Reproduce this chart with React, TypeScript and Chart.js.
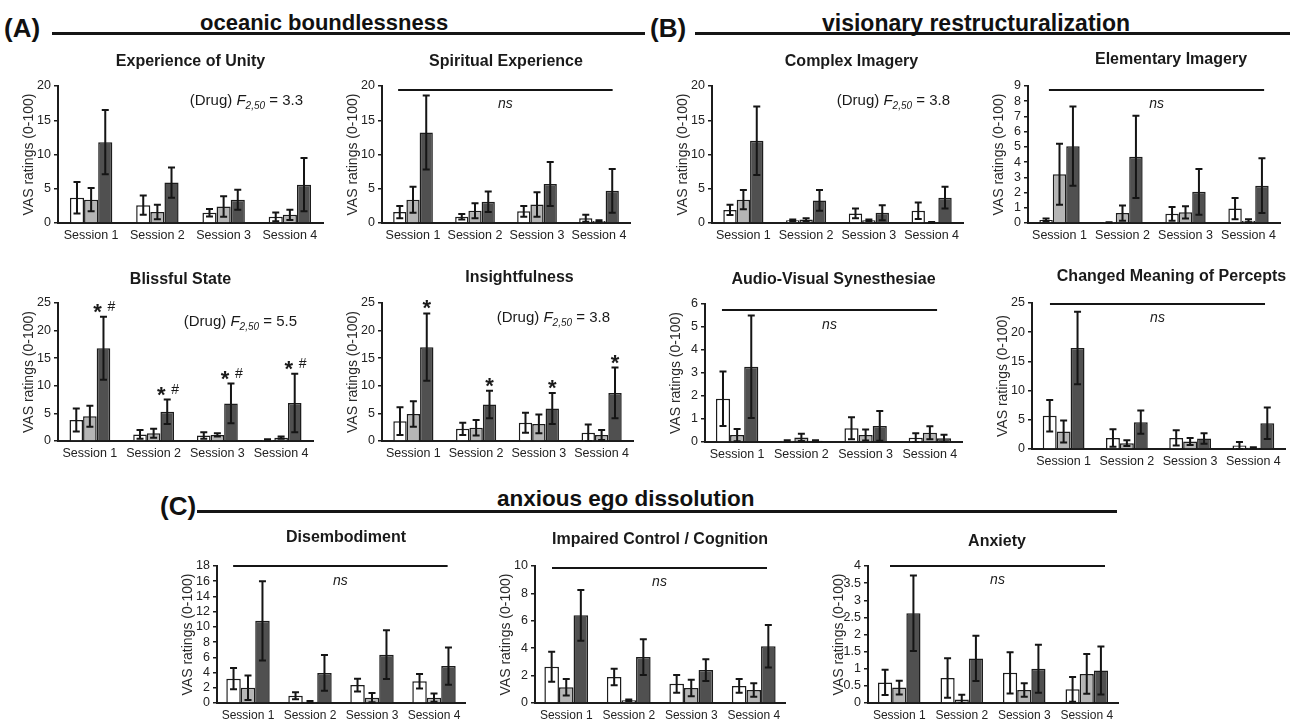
import React, { useEffect, useRef } from "react";
import { Chart, registerables } from "chart.js";

Chart.register(...registerables);

const FONT = "'Liberation Sans', Arial, Helvetica, sans-serif";

// ---------- data ----------
const sessions = ["Session 1", "Session 2", "Session 3", "Session 4"];
const groupColors = ["#ffffff", "#b5b5b5", "#505050"];

// rows: white, gray, dark ; columns: sessions 1-4
const unityMeans = [[3.7, 2.6, 1.5, 0.9], [3.4, 1.6, 2.4, 1.2], [11.8, 5.9, 3.4, 5.6]];
const unityErrors = [[2.3, 1.4, 0.55, 0.65], [1.7, 1.05, 1.5, 0.75], [4.7, 2.2, 1.45, 3.9]];
const unityTicks = [0, 5, 10, 15, 20];
const unityStat = "3.3";

const spiritMeans = [[1.6, 0.9, 1.7, 0.7], [3.4, 1.8, 2.7, 0.3], [13.2, 3.1, 5.7, 4.7]];
const spiritErrors = [[0.9, 0.4, 0.8, 0.5], [1.9, 1.1, 1.8, 0.1], [5.4, 1.5, 3.2, 3.2]];
const spiritTicks = [0, 5, 10, 15, 20];

const blissMeans = [[3.8, 1.2, 1.0, 0.2], [4.5, 1.4, 1.1, 0.6], [16.8, 5.3, 6.8, 6.9]];
const blissErrors = [[2.1, 0.8, 0.6, 0.1], [1.9, 0.8, 0.3, 0.2], [5.7, 2.2, 3.6, 5.3]];
const blissTicks = [0, 5, 10, 15, 20, 25];
const blissStat = "5.5";
const blissMarks = ["*#", "*#", "*#", "*#"];

const insightMeans = [[3.6, 2.2, 3.3, 1.5], [4.9, 2.4, 3.1, 1.1], [17.0, 6.6, 5.9, 8.7]];
const insightErrors = [[2.5, 1.1, 1.8, 1.5], [2.3, 1.4, 1.7, 0.9], [6.1, 2.5, 2.8, 4.6]];
const insightTicks = [0, 5, 10, 15, 20, 25];
const insightStat = "3.8";
const insightMarks = ["*", "*", "*", "*"];

const complexMeans = [[1.9, 0.4, 1.4, 1.8], [3.4, 0.5, 0.4, 0.1], [12.0, 3.3, 1.5, 3.7]];
const complexErrors = [[0.75, 0.1, 0.7, 1.2], [1.4, 0.2, 0.1, 0.05], [5.0, 1.5, 1.1, 1.6]];
const complexTicks = [0, 5, 10, 15, 20];
const complexStat = "3.8";

const elemMeans = [[0.2, 0.03, 0.6, 0.95], [3.2, 0.65, 0.7, 0.15], [5.05, 4.35, 2.05, 2.45]];
const elemErrors = [[0.1, 0.02, 0.45, 0.7], [2.0, 0.5, 0.4, 0.1], [2.6, 2.7, 1.5, 1.8]];
const elemTicks = [0, 1, 2, 3, 4, 5, 6, 7, 8, 9];

const avMeans = [[1.88, 0.05, 0.6, 0.18], [0.3, 0.2, 0.3, 0.4], [3.27, 0.05, 0.7, 0.16]];
const avErrors = [[1.18, 0.03, 0.48, 0.2], [0.27, 0.16, 0.24, 0.28], [2.23, 0.03, 0.65, 0.16]];
const avTicks = [0, 1, 2, 3, 4, 5, 6];

const meaningMeans = [[5.7, 1.9, 1.9, 0.6], [3.0, 1.0, 1.3, 0.2], [17.3, 4.6, 1.8, 4.4]];
const meaningErrors = [[2.7, 1.5, 1.3, 0.6], [1.9, 0.5, 0.6, 0.1], [6.2, 2.0, 0.9, 2.7]];
const meaningTicks = [0, 5, 10, 15, 20, 25];

const disembMeans = [[3.2, 0.95, 2.35, 2.85], [2.0, 0.15, 0.7, 0.7], [10.8, 3.95, 6.35, 4.85]];
const disembErrors = [[1.4, 0.45, 0.85, 0.95], [1.6, 0.1, 0.6, 0.55], [5.2, 2.35, 3.2, 2.45]];
const disembTicks = [0, 2, 4, 6, 8, 10, 12, 14, 16, 18];

const impairedMeans = [[2.65, 1.9, 1.4, 1.25], [1.15, 0.2, 1.1, 0.95], [6.4, 3.35, 2.4, 4.15]];
const impairedErrors = [[1.1, 0.6, 0.65, 0.5], [0.6, 0.05, 0.6, 0.5], [1.85, 1.3, 0.8, 1.55]];
const impairedTicks = [0, 2, 4, 6, 8, 10];

const anxietyMeans = [[0.6, 0.73, 0.88, 0.4], [0.45, 0.1, 0.38, 0.85], [2.62, 1.3, 1.0, 0.95]];
const anxietyErrors = [[0.37, 0.58, 0.6, 0.36], [0.2, 0.14, 0.2, 0.58], [1.1, 0.66, 0.7, 0.7]];
const anxietyTicks = [0, 0.5, 1, 1.5, 2, 2.5, 3, 3.5, 4];

const yAxisTitle = "VAS ratings (0-100)";

// ---------- layout ----------
type Panel = {
  key: string;
  title: string;
  means: number[][];
  errors: number[][];
  ticks: number[];
  L: number; T: number; R: number; B: number;
  titleDx: number; titleDy: number;
  stat?: string; statRight?: number; statDy?: number;
  ns?: number[]; // [x1 frac, x2 frac, line dy, text dy]
  marks?: string[];
  catPct: number;
  labelSize: number;
};

const panels: Panel[] = [
  { key: "unity", title: "Experience of Unity", means: unityMeans, errors: unityErrors, ticks: unityTicks,
    L: 58, T: 86, R: 323, B: 223, titleDx: 0, titleDy: 24, stat: unityStat, statRight: 20, statDy: 14, catPct: 0.64, labelSize: 12.5 },
  { key: "spirit", title: "Spiritual Experience", means: spiritMeans, errors: spiritErrors, ticks: spiritTicks,
    L: 382, T: 86, R: 630, B: 223, titleDx: 0, titleDy: 24, ns: [0.065, 0.93, 4, 18], catPct: 0.64, labelSize: 12.5 },
  { key: "bliss", title: "Blissful State", means: blissMeans, errors: blissErrors, ticks: blissTicks,
    L: 58, T: 303, R: 313, B: 441, titleDx: -5, titleDy: 23, stat: blissStat, statRight: 16, statDy: 18, marks: blissMarks, catPct: 0.64, labelSize: 12.5 },
  { key: "insight", title: "Insightfulness", means: insightMeans, errors: insightErrors, ticks: insightTicks,
    L: 382, T: 303, R: 633, B: 441, titleDx: 12, titleDy: 25, stat: insightStat, statRight: 23, statDy: 14, marks: insightMarks, catPct: 0.64, labelSize: 12.5 },
  { key: "complex", title: "Complex Imagery", means: complexMeans, errors: complexErrors, ticks: complexTicks,
    L: 712, T: 86, R: 963, B: 223, titleDx: 14, titleDy: 24, stat: complexStat, statRight: 13, statDy: 14, catPct: 0.64, labelSize: 12.5 },
  { key: "elem", title: "Elementary Imagery", means: elemMeans, errors: elemErrors, ticks: elemTicks,
    L: 1028, T: 86, R: 1280, B: 223, titleDx: 17, titleDy: 26, ns: [0.083, 0.937, 4, 18], catPct: 0.64, labelSize: 12.5 },
  { key: "av", title: "Audio-Visual Synesthesiae", means: avMeans, errors: avErrors, ticks: avTicks,
    L: 705, T: 304, R: 962, B: 442, titleDx: 0, titleDy: 24, ns: [0.066, 0.903, 6, 21], catPct: 0.66, labelSize: 12.5 },
  { key: "meaning", title: "Changed Meaning of Percepts", means: meaningMeans, errors: meaningErrors, ticks: meaningTicks,
    L: 1032, T: 303, R: 1285, B: 449, titleDx: 13, titleDy: 26, ns: [0.071, 0.921, 1, 15], catPct: 0.66, labelSize: 12.5 },
  { key: "disemb", title: "Disembodiment", means: disembMeans, errors: disembErrors, ticks: disembTicks,
    L: 217, T: 566, R: 465, B: 703, titleDx: 5, titleDy: 28, ns: [0.065, 0.93, 0, 15], catPct: 0.7, labelSize: 12 },
  { key: "impaired", title: "Impaired Control / Cognition", means: impairedMeans, errors: impairedErrors, ticks: impairedTicks,
    L: 535, T: 566, R: 785, B: 703, titleDx: 0, titleDy: 26, ns: [0.068, 0.928, 2, 16], catPct: 0.7, labelSize: 12 },
  { key: "anxiety", title: "Anxiety", means: anxietyMeans, errors: anxietyErrors, ticks: anxietyTicks,
    L: 868, T: 566, R: 1118, B: 703, titleDx: 4, titleDy: 24, ns: [0.088, 0.948, 0, 14], catPct: 0.68, labelSize: 12 },
];

const PAD_LEFT = 60;
const PAD_TOP = 42;
const PAD_RIGHT = 10;
const PAD_BOTTOM = 26;

function makeDecor(p: Panel) {
  return {
    id: "decor_" + p.key,
    afterDraw(chart: any) {
      const ctx: CanvasRenderingContext2D = chart.ctx;
      const ca = chart.chartArea;
      const ys = chart.scales.y;
      ctx.save();

      // error bars
      for (let d = 0; d < 3; d++) {
        const meta = chart.getDatasetMeta(d);
        meta.data.forEach((bar: any, i: number) => {
          const v = p.means[d][i];
          const e = p.errors[d][i];
          const x = bar.x;
          const yt = ys.getPixelForValue(v + e);
          const yb = ys.getPixelForValue(Math.max(0, v - e));
          ctx.strokeStyle = "#151515";
          ctx.lineWidth = 2;
          ctx.beginPath();
          ctx.moveTo(x, yt);
          ctx.lineTo(x, yb);
          ctx.moveTo(x - 3.5, yt);
          ctx.lineTo(x + 3.5, yt);
          ctx.moveTo(x - 3.5, yb);
          ctx.lineTo(x + 3.5, yb);
          ctx.stroke();
        });
      }

      ctx.fillStyle = "#1a1a1a";

      // panel title
      ctx.font = `bold 16px ${FONT}`;
      ctx.textAlign = "center";
      ctx.textBaseline = "middle";
      ctx.fillText(p.title, (ca.left + ca.right) / 2 + p.titleDx, ca.top - p.titleDy);

      // y-axis title
      ctx.save();
      ctx.translate(ca.left - 29, (ca.top + ca.bottom) / 2);
      ctx.rotate(-Math.PI / 2);
      ctx.font = `14px ${FONT}`;
      ctx.fillStyle = "#2a2a2a";
      ctx.fillText(yAxisTitle, 0, 0);
      ctx.restore();

      // ns line
      if (p.ns) {
        const w = ca.right - ca.left;
        const x1 = ca.left + p.ns[0] * w;
        const x2 = ca.left + p.ns[1] * w;
        const yl = ca.top + p.ns[2];
        ctx.strokeStyle = "#151515";
        ctx.lineWidth = 2;
        ctx.beginPath();
        ctx.moveTo(x1, yl);
        ctx.lineTo(x2, yl);
        ctx.stroke();
        ctx.font = `italic 14px ${FONT}`;
        ctx.textAlign = "center";
        ctx.textBaseline = "middle";
        ctx.fillText("ns", (x1 + x2) / 2, ca.top + p.ns[3]);
      }

      // statistic text: (Drug) F2,50 = x
      if (p.stat) {
        const parts = [
          { t: "(Drug) ", f: `15px ${FONT}`, dy: 0 },
          { t: "F", f: `italic 15px ${FONT}`, dy: 0 },
          { t: "2,50", f: `italic 10px ${FONT}`, dy: 4 },
          { t: " = " + p.stat, f: `15px ${FONT}`, dy: 0 },
        ];
        let total = 0;
        for (const pt of parts) {
          ctx.font = pt.f;
          total += ctx.measureText(pt.t).width;
        }
        let x = ca.right - (p.statRight || 0) - total;
        const yb = ca.top + (p.statDy || 0) + 5;
        ctx.textAlign = "left";
        ctx.textBaseline = "alphabetic";
        for (const pt of parts) {
          ctx.font = pt.f;
          ctx.fillText(pt.t, x, yb + pt.dy);
          x += ctx.measureText(pt.t).width;
        }
      }

      // significance markers over the dark bars
      if (p.marks) {
        const meta = chart.getDatasetMeta(2);
        meta.data.forEach((bar: any, i: number) => {
          const m = p.marks![i];
          if (!m) return;
          const capY = ys.getPixelForValue(p.means[2][i] + p.errors[2][i]);
          ctx.textAlign = "center";
          ctx.textBaseline = "alphabetic";
          const hasHash = m.indexOf("#") >= 0;
          ctx.font = `bold 22px ${FONT}`;
          ctx.fillText("*", bar.x + (hasHash ? -6 : 0), capY + 2);
          if (hasHash) {
            ctx.font = `14px ${FONT}`;
            ctx.fillText("#", bar.x + 8, capY - 6);
          }
        });
      }

      ctx.restore();
    },
  };
}

function PanelChart({ p }: { p: Panel }) {
  const ref = useRef<HTMLCanvasElement | null>(null);
  const width = p.R - p.L + PAD_LEFT + PAD_RIGHT;
  const height = p.B - p.T + PAD_TOP + PAD_BOTTOM;

  useEffect(() => {
    if (!ref.current) return;
    const chart = new Chart(ref.current, {
      type: "bar",
      data: {
        labels: sessions,
        datasets: p.means.map((row, d) => ({
          data: row,
          backgroundColor: groupColors[d],
          borderColor: "#1c1c1c",
          borderWidth: 1.5,
          barPercentage: 1,
          categoryPercentage: p.catPct,
        })),
      },
      options: {
        responsive: false,
        maintainAspectRatio: false,
        animation: false,
        events: [],
        layout: { padding: { top: PAD_TOP, right: PAD_RIGHT, left: 0, bottom: 0 } },
        plugins: {
          legend: { display: false },
          tooltip: { enabled: false },
          title: { display: false },
        },
        scales: {
          x: {
            grid: { display: false, drawTicks: false },
            border: { display: true, color: "#1c1c1c", width: 2 },
            ticks: {
              color: "#222",
              font: { family: FONT, size: p.labelSize },
              padding: 5,
              maxRotation: 0,
              autoSkip: false,
            },
            afterFit: (scale: any) => {
              scale.height = PAD_BOTTOM;
            },
          },
          y: {
            min: p.ticks[0],
            max: p.ticks[p.ticks.length - 1],
            grid: {
              display: true,
              drawOnChartArea: false,
              drawTicks: true,
              tickLength: 4,
              color: "#1c1c1c",
              lineWidth: 1.5,
            },
            border: { display: true, color: "#1c1c1c", width: 2 },
            ticks: {
              color: "#222",
              font: { family: FONT, size: 12.5 },
              padding: 3,
              autoSkip: false,
              callback: (v: any) => String(Math.round(Number(v) * 100) / 100),
            },
            afterBuildTicks: (scale: any) => {
              scale.ticks = p.ticks.map((v) => ({ value: v }));
            },
            afterFit: (scale: any) => {
              scale.width = PAD_LEFT;
            },
          },
        },
      },
      plugins: [makeDecor(p)],
    } as any);
    return () => chart.destroy();
  }, [p]);

  return (
    <canvas
      ref={ref}
      width={width}
      height={height}
      style={{
        position: "absolute",
        left: p.L - PAD_LEFT,
        top: p.T - PAD_TOP,
        width,
        height,
      }}
    />
  );
}

type Header = { text: string; x: number; baseline: number; size: number };
const headers: Header[] = [
  { text: "(A)", x: 4, baseline: 37, size: 26 },
  { text: "oceanic boundlessness", x: 200, baseline: 31, size: 22 },
  { text: "(B)", x: 650, baseline: 37, size: 26 },
  { text: "visionary restructuralization", x: 822, baseline: 31, size: 23 },
  { text: "(C)", x: 160, baseline: 515, size: 26 },
  { text: "anxious ego dissolution", x: 497, baseline: 507, size: 22.5 },
];
const rules = [
  { x1: 52, x2: 645, y: 32 },
  { x1: 695, x2: 1290, y: 32 },
  { x1: 197, x2: 1117, y: 510 },
];

export default function App() {
  useEffect(() => {
    document.body.style.margin = "0";
    document.body.style.background = "#fff";
  }, []);
  return (
    <div
      style={{
        position: "absolute",
        left: 0,
        top: 0,
        width: 1295,
        height: 725,
        background: "#ffffff",
        overflow: "hidden",
        fontFamily: FONT,
        color: "#111",
      }}
    >
      {rules.map((r, i) => (
        <div
          key={"r" + i}
          style={{ position: "absolute", left: r.x1, top: r.y, width: r.x2 - r.x1, height: 2.5, background: "#151515" }}
        />
      ))}
      {headers.map((h, i) => (
        <div
          key={"h" + i}
          style={{
            position: "absolute",
            left: h.x,
            top: h.baseline - 0.8465 * h.size,
            fontSize: h.size,
            lineHeight: `${h.size}px`,
            fontWeight: "bold",
            whiteSpace: "nowrap",
          }}
        >
          {h.text}
        </div>
      ))}
      {panels.map((p) => (
        <PanelChart key={p.key} p={p} />
      ))}
    </div>
  );
}
